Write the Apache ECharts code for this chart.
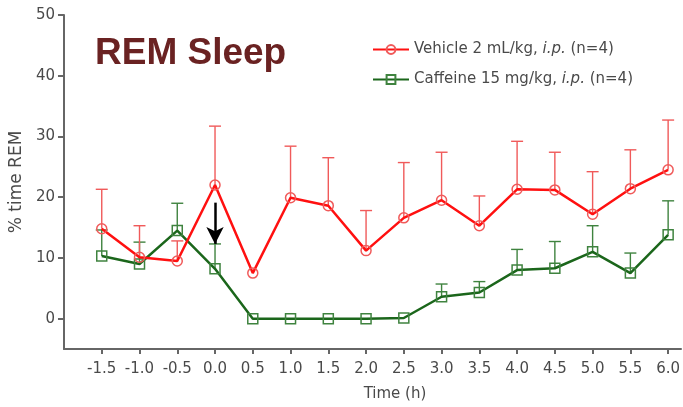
<!DOCTYPE html>
<html>
<head>
<meta charset="utf-8">
<script src="https://cdn.jsdelivr.net/npm/echarts@6/dist/echarts.min.js"></script>
<style>
  html, body { margin: 0; padding: 0; background: #fff; }
  #chart { width: 683px; height: 407px; }
</style>
</head>
<body>
<div id="chart"></div>
<script>
// Time after dosing (h) and % time spent in REM sleep, mean and SEM
const timeHours = [-1.5, -1.0, -0.5, 0.0, 0.5, 1.0, 1.5, 2.0, 2.5, 3.0, 3.5, 4.0, 4.5, 5.0, 5.5, 6.0];
const vehicleMean = [14.8, 10.1, 9.5, 22.0, 7.5, 19.9, 18.6, 11.2, 16.6, 19.5, 15.3, 21.3, 21.2, 17.2, 21.4, 24.5];
const vehicleSem  = [6.5, 5.2, 3.3, 9.7, 0, 8.5, 7.9, 6.6, 9.1, 7.9, 4.9, 7.9, 6.2, 7.0, 6.4, 8.2];
const caffeineMean = [10.3, 9.0, 14.5, 8.2, 0, 0, 0, 0, 0.1, 3.6, 4.3, 8.0, 8.3, 11.0, 7.5, 13.8];
const caffeineSem  = [4.3, 3.6, 4.5, 4.1, 0, 0, 0, 0, 0, 2.1, 1.8, 3.4, 4.4, 4.3, 3.3, 5.6];

const xTicks = [-1.5, -1.0, -0.5, 0.0, 0.5, 1.0, 1.5, 2.0, 2.5, 3.0, 3.5, 4.0, 4.5, 5.0, 5.5, 6.0];
const yTicks = [0, 10, 20, 30, 40, 50];

// Dosing arrow at t = 0: x, start value, tip value
const doseArrow = [0.0, 19.1, 12.3];

const seriesNames = ['Vehicle', 'Caffeine'];
const legendLabels = {
  Vehicle: '{n|Vehicle 2 mL/kg, }{i|i.p.}{n| (n=4)}',
  Caffeine: '{n|Caffeine 15 mg/kg, }{i|i.p.}{n| (n=4)}'
};

const RED = '#ff1010';
const RED_ERR = '#f05a5a';
const GREEN = '#1b661b';
const GREEN_ERR = '#3f833f';
const AXIS = '#666666';
const TEXT = '#4a4a4a';
const FONT = 'DejaVu Sans';

function pairs(xs, ys) { return xs.map((x, i) => [x, ys[i]]); }

// Upward-only SEM bars with a cap
function errorBars(means, sems, color) {
  return {
    type: 'custom',
    silent: true,
    z: 1,
    data: timeHours.map((t, i) => [t, means[i], means[i] + sems[i], sems[i]]),
    renderItem: function (params, api) {
      if (api.value(3) <= 0) return null;
      const base = api.coord([api.value(0), api.value(1)]);
      const top = api.coord([api.value(0), api.value(2)]);
      const half = 6;
      const style = { stroke: color, lineWidth: 1.4, fill: null };
      return {
        type: 'group',
        children: [
          { type: 'line', shape: { x1: base[0], y1: base[1], x2: top[0], y2: top[1] }, style: style },
          { type: 'line', shape: { x1: top[0] - half, y1: top[1], x2: top[0] + half, y2: top[1] }, style: style }
        ]
      };
    }
  };
}

const chart = echarts.init(document.getElementById('chart'), null, { renderer: 'canvas' });

chart.setOption({
  animation: false,
  backgroundColor: '#ffffff',
  title: {
    text: 'REM Sleep',
    left: 90,
    top: 30,
    textStyle: { fontFamily: 'Liberation Sans', fontWeight: 'bold', fontSize: 37, color: '#6a2222' }
  },
  legend: {
    orient: 'vertical',
    left: 367,
    top: 37,
    itemWidth: 36,
    itemHeight: 11,
    itemGap: 15,
    data: seriesNames,
    formatter: name => legendLabels[name],
    textStyle: {
      fontFamily: FONT, fontSize: 15, color: TEXT,
      rich: {
        n: { fontFamily: FONT, fontSize: 15, color: TEXT },
        i: { fontFamily: FONT, fontSize: 15, color: TEXT, fontStyle: 'italic' }
      }
    }
  },
  grid: { left: 61, right: 0, top: 15, bottom: 56.5, containLabel: false },
  xAxis: {
    type: 'value',
    min: -2.0,
    max: 6.17,
    name: 'Time (h)',
    nameLocation: 'middle',
    nameGap: 38,
    nameTextStyle: { fontFamily: FONT, fontSize: 15, color: TEXT, padding: [0, 0, 0, 45] },
    axisLine: { onZero: false, lineStyle: { color: AXIS, width: 2 } },
    axisTick: { customValues: xTicks, length: 5, lineStyle: { color: AXIS, width: 2 } },
    axisLabel: {
      customValues: xTicks,
      margin: 13,
      fontFamily: FONT,
      fontSize: 15,
      color: TEXT,
      formatter: v => v.toFixed(1)
    },
    splitLine: { show: false }
  },
  yAxis: {
    type: 'value',
    min: -5,
    max: 50,
    name: '% time REM',
    nameLocation: 'middle',
    nameGap: 31,
    nameTextStyle: { fontFamily: FONT, fontSize: 17, color: TEXT },
    axisLine: { show: true, onZero: false, lineStyle: { color: AXIS, width: 2 } },
    axisTick: { show: true, customValues: yTicks, length: 6, lineStyle: { color: AXIS, width: 2 } },
    axisLabel: { customValues: yTicks, margin: 9, fontFamily: FONT, fontSize: 15, color: TEXT },
    splitLine: { show: false }
  },
  series: [
    errorBars(caffeineMean, caffeineSem, GREEN_ERR),
    errorBars(vehicleMean, vehicleSem, RED_ERR),
    {
      name: seriesNames[1],
      type: 'line',
      z: 3,
      data: pairs(timeHours, caffeineMean),
      symbol: 'rect',
      symbolSize: 10,
      lineStyle: { color: GREEN, width: 2.5 },
      itemStyle: { color: 'rgba(255,255,255,0)', borderColor: GREEN_ERR, borderWidth: 1.5 }
    },
    {
      name: seriesNames[0],
      type: 'line',
      z: 4,
      data: pairs(timeHours, vehicleMean),
      symbol: 'circle',
      symbolSize: 10,
      lineStyle: { color: RED, width: 2.5 },
      itemStyle: { color: 'rgba(255,255,255,0)', borderColor: RED_ERR, borderWidth: 1.5 },
      markLine: {
        silent: true,
        symbol: ['none', 'arrow'],
        symbolSize: [13, 17],
        label: { show: false },
        lineStyle: { color: '#000000', width: 2.5, type: 'solid' },
        data: [[
          { coord: [doseArrow[0], doseArrow[1]] },
          { coord: [doseArrow[0], doseArrow[2]] }
        ]]
      }
    }
  ]
});
</script>
</body>
</html>
